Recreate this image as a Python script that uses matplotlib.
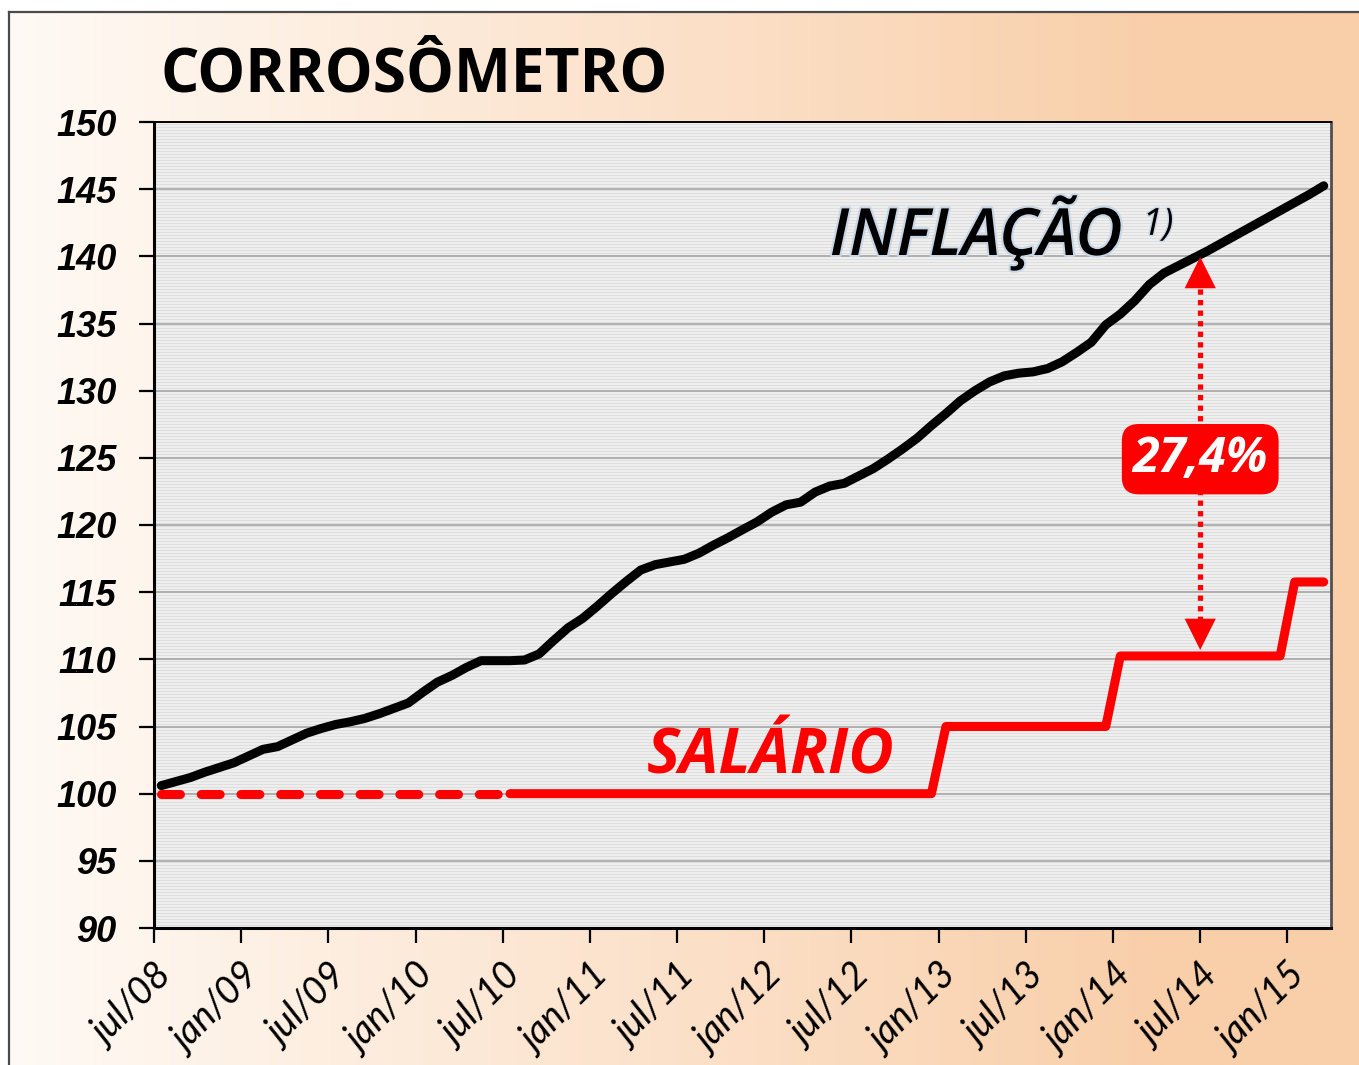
import numpy as np
import matplotlib
matplotlib.use("Agg")
import matplotlib.pyplot as plt
import matplotlib.patheffects as pe

# ---------------- data ----------------
tick_labels = ["jul/08", "jan/09", "jul/09", "jan/10", "jul/10", "jan/11", "jul/11",
               "jan/12", "jul/12", "jan/13", "jul/13", "jan/14", "jul/14", "jan/15"]
y_ticks = [90, 95, 100, 105, 110, 115, 120, 125, 130, 135, 140, 145, 150]

# monthly index, jul/08 .. mar/15
inflacao = [100.6, 100.9, 101.2, 101.6, 101.95, 102.3, 102.8, 103.3, 103.5, 104.0,
            104.5, 104.85, 105.15, 105.35, 105.6, 105.95, 106.35, 106.75, 107.55, 108.3,
            108.8, 109.4, 109.9, 109.9, 109.9, 109.95, 110.4, 111.4, 112.35, 113.05,
            113.95, 114.9, 115.8, 116.65, 117.05, 117.25, 117.45, 117.9, 118.5, 119.05,
            119.65, 120.23, 120.95, 121.5, 121.7, 122.45, 122.9, 123.1, 123.65, 124.2,
            124.9, 125.65, 126.45, 127.4, 128.3, 129.25, 130.0, 130.65, 131.1, 131.3,
            131.4, 131.65, 132.15, 132.85, 133.6, 134.9, 135.7, 136.7, 137.9, 138.75,
            139.3, 139.85, 140.4, 141.0, 141.6, 142.2, 142.8, 143.4, 144.0, 144.6, 145.25]
salario = [100.0] * 54 + [105.0] * 12 + [110.25] * 12 + [115.76] * 3
salario_dashed_until = 24          # index where the dashed part ends (jul/10)
gap_label = "27,4%"
gap_month = 72                      # jul/14

n = len(inflacao)
x = np.arange(n) + 0.5

# ---------------- figure ----------------
W, H = 1359, 1065
fig = plt.figure(figsize=(W / 100, H / 100), dpi=100, facecolor="white")

# gradient background with frame
bg = fig.add_axes([9 / W, 0, 1 - 9 / W, 1 - 12 / H], zorder=-10)
left_c = np.array([255, 250, 245]) / 255
right_c = np.array([249, 207, 170]) / 255
t = np.linspace(0, 1, 600)
t = np.clip(t / 0.85, 0, 1)
grad = left_c[None, :] * (1 - t[:, None]) + right_c[None, :] * t[:, None]
bg.imshow(grad[None, :, :], aspect="auto", extent=[0, 1, 0, 1])
bg.set_xlim(0, 1); bg.set_ylim(0, 1)
bg.set_xticks([]); bg.set_yticks([])
for s in ["right", "bottom"]:
    bg.spines[s].set_visible(False)
for s in ["left", "top"]:
    bg.spines[s].set_color("#4a4a4a")
    bg.spines[s].set_linewidth(1.6)

# main axes
ax_l, ax_r, ax_t, ax_b = 154, 1331, 122, 928
ax = fig.add_axes([ax_l / W, 1 - ax_b / H, (ax_r - ax_l) / W, (ax_b - ax_t) / H])
ax.set_xlim(0, 81)
ax.set_ylim(90, 150)

# striped plot area
rows = ax_b - ax_t
pattern = np.array([0.93, 0.93, 0.87])
stripes = np.tile(pattern, rows // 3 + 1)[:rows]
stripe_img = np.repeat(stripes[:, None], 4, axis=1)
ax.imshow(stripe_img, cmap="gray", vmin=0, vmax=1, aspect="auto",
          extent=[0, 81, 90, 150], interpolation="nearest", zorder=0)
for yv in y_ticks[1:-1]:
    ax.axhline(yv, color="#ababab", lw=1.3, zorder=1)

# lines
ax.plot(x, inflacao, color="black", lw=6.5, solid_capstyle="round",
        solid_joinstyle="round", zorder=4)
ax.plot(x[:salario_dashed_until + 1], salario[:salario_dashed_until + 1], color="#ff0000",
        lw=6.5, linestyle=(0, (2.1, 2.3)), dash_capstyle="round", zorder=3)
ax.plot(x[salario_dashed_until:], salario[salario_dashed_until:], color="#ff0000", lw=6.5,
        solid_capstyle="round", solid_joinstyle="round", zorder=3)

# gap arrow
top_v = inflacao[gap_month] - 0.45
bot_v = salario[gap_month] + 0.45
ax.plot([gap_month, gap_month], [bot_v + 1.3, top_v - 1.3], color="#ff0000", lw=3.8,
        linestyle=(0, (1, 1)), dash_capstyle="butt", zorder=5)
for tip, tail in [(top_v, top_v - 1.6), (bot_v, bot_v + 1.6)]:
    ax.annotate("", xy=(gap_month, tip), xytext=(gap_month, tail),
                arrowprops=dict(arrowstyle="-|>,head_length=0.9,head_width=0.45",
                                color="#ff0000", lw=0, mutation_scale=25, shrinkA=0, shrinkB=0),
                zorder=6)
ax.text(gap_month, 124.9, gap_label, color="white", fontsize=35, fontweight="bold",
        fontstyle="italic", family=["Open Sans", "DejaVu Sans"], ha="center", va="center",
        zorder=7,
        bbox=dict(boxstyle="round,pad=0.22,rounding_size=0.35", fc="#ff0000", ec="none"))

# series labels
ax.text(46.5, 140.1, "INFLAÇÃO", color="black", fontsize=47, fontweight="semibold",
        fontstyle="italic", family=["Open Sans", "DejaVu Sans"], ha="left", va="baseline",
        zorder=6, path_effects=[pe.withStroke(linewidth=3, foreground="#c9d6e6")])
ax.text(68.0, 141.6, "1)", color="black", fontsize=27, fontstyle="italic",
        family=["Open Sans", "DejaVu Sans"], ha="left", va="baseline", zorder=6,
        path_effects=[pe.withStroke(linewidth=2, foreground="#c9d6e6")])
ax.text(33.9, 101.5, "SALÁRIO", color="#ff0000", fontsize=45, fontweight="bold",
        fontstyle="italic", family=["Open Sans", "DejaVu Sans"], ha="left", va="baseline",
        zorder=6)

# axes styling
ax.set_xticks(np.arange(0, 79, 6))
ax.set_xticklabels(tick_labels)
ax.set_yticks(y_ticks)
ax.set_yticklabels([str(v) for v in y_ticks])
ax.tick_params(axis="x", direction="out", length=11, width=1.6, pad=11, color="black")
ax.tick_params(axis="y", direction="out", length=11, width=1.6, pad=16, color="black")
for lbl in ax.get_xticklabels():
    lbl.set_family(["Lato", "DejaVu Sans"])
    lbl.set_fontstyle("italic")
    lbl.set_fontsize(27)
    lbl.set_rotation(45)
    lbl.set_ha("right")
    lbl.set_va("top")
    lbl.set_rotation_mode("anchor")
for lbl in ax.get_yticklabels():
    lbl.set_family(["Liberation Sans", "DejaVu Sans"])
    lbl.set_fontstyle("italic")
    lbl.set_fontweight("bold")
    lbl.set_fontsize(26)
for s in ["left", "bottom"]:
    ax.spines[s].set_color("black")
    ax.spines[s].set_linewidth(2.2)
ax.spines["top"].set_color("black")
ax.spines["top"].set_linewidth(1.4)
ax.spines["right"].set_color("#505050")
ax.spines["right"].set_linewidth(2.0)
for s in ax.spines.values():
    s.set_zorder(8)

# title
fig.text(160 / W, 1 - 92 / H, "CORROSÔMETRO", fontsize=43.5, fontweight="bold",
         family=["Open Sans", "DejaVu Sans"], color="black", ha="left", va="baseline")

fig.savefig("out.png", dpi=100, facecolor="white")
